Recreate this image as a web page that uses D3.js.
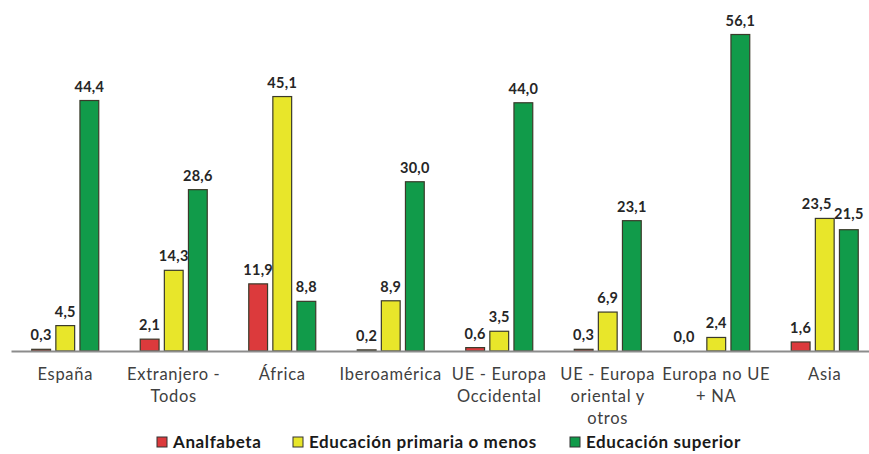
<!DOCTYPE html>
<html><head><meta charset="utf-8">
<script src="https://cdn.jsdelivr.net/npm/d3@7"></script>
<style>body{margin:0;background:#fff}svg{display:block}</style>
</head><body>
<svg id="c" width="869" height="454"></svg>
<script>
const categories = ["España","Extranjero - Todos","África","Iberoamérica","UE - Europa Occidental","UE - Europa oriental y otros","Europa no UE + NA","Asia"];
const categoryLines = [["España"],["Extranjero -","Todos"],["África"],["Iberoamérica"],["UE - Europa","Occidental"],["UE - Europa","oriental y","otros"],["Europa no UE","+ NA"],["Asia"]];
const seriesNames = ["Analfabeta","Educación primaria o menos","Educación superior"];
const analfabeta = [0.3,2.1,11.9,0.2,0.6,0.3,0.0,1.6];
const primaria = [4.5,14.3,45.1,8.9,3.5,6.9,2.4,23.5];
const superior = [44.4,28.6,8.8,30.0,44.0,23.1,56.1,21.5];
const colors = ["#dc3a3c","#e8e62a","#119b4a"];

const seriesValues = [analfabeta, primaria, superior];
const svg = d3.select("#c");
const font = "Lato, 'Open Sans', sans-serif";

const x0 = d3.scaleBand().domain(categories).range([11, 879]).padding(0);
const x1 = d3.scaleBand().domain(seriesNames).range([-33.5, 33.5]).paddingInner(0.22);
const y = d3.scaleLinear().domain([0, 56.1]).range([351, 34.5]);

const data = categories.map((c,i)=>({cat:c, vals: seriesNames.map((s,j)=>({s, j, v: seriesValues[j][i]}))}));

const g = svg.selectAll("g.grp").data(data).join("g").attr("class","grp")
  .attr("transform", d=>`translate(${x0(d.cat)+x0.bandwidth()/2},0)`);

g.selectAll("rect").data(d=>d.vals).join("rect")
  .attr("x", d=>x1(d.s)).attr("width", x1.bandwidth())
  .attr("y", d=>y(d.v)).attr("height", d=>Math.max(0, y(0)-y(d.v)))
  .attr("fill", d=>colors[d.j]).attr("stroke", "#3a3a2a").attr("stroke-width", 1.2);

// value labels
g.each(function(d){
  const sel = d3.select(this);
  const labels = d.vals.map(v=>({...v, cx: x1(v.s)+x1.bandwidth()/2, ty: y(v.v)-9}));
  for (let k=1;k<labels.length;k++){
    const a = labels[k-1], b = labels[k];
    if (Math.abs(a.ty-b.ty) < 14) { a.cx -= 8; b.ty = Math.min(b.ty, a.ty+10); }
  }
  sel.selectAll("text.val").data(labels).join("text").attr("class","val")
    .attr("x", l=>l.cx).attr("y", l=>l.ty)
    .attr("text-anchor","middle").attr("font-family",font).attr("font-weight","bold")
    .attr("font-size","14.5px").attr("letter-spacing","0.3px").attr("fill","#262626")
    .text(l=>d3.format(".1f")(l.v).replace(".",","));
});

// baseline axis
const xAxis = d3.axisBottom(x0).tickSize(0).tickFormat("");
const ax = svg.append("g").attr("transform","translate(0,351)").call(xAxis);
ax.select(".domain").attr("stroke","#8c8c8c").attr("stroke-width",2);

// category labels
categories.forEach((c,i)=>{
  const t = svg.append("text").attr("x", x0(c)+x0.bandwidth()/2).attr("y", 380)
    .attr("text-anchor","middle").attr("font-family",font).attr("font-size","16.5px")
    .attr("letter-spacing","0.7px").attr("fill","#404040");
  categoryLines[i].forEach((ln,k)=>t.append("tspan").attr("x", x0(c)+x0.bandwidth()/2).attr("dy", k===0?0:22).text(ln));
});

// legend
const legX = [157, 293, 570];
const leg = svg.selectAll("g.leg").data(seriesNames).join("g").attr("class","leg")
  .attr("transform",(d,i)=>`translate(${legX[i]},437)`);
leg.append("rect").attr("width",10).attr("height",10).attr("fill",(d,i)=>colors[i]).attr("stroke","#333").attr("stroke-width",1);
leg.append("text").attr("x",16).attr("y",11).attr("font-family",font).attr("font-weight","bold")
  .attr("font-size","17px").attr("letter-spacing","0.6px").attr("fill","#1a1a1a").text(d=>d);
</script>
</body></html>
